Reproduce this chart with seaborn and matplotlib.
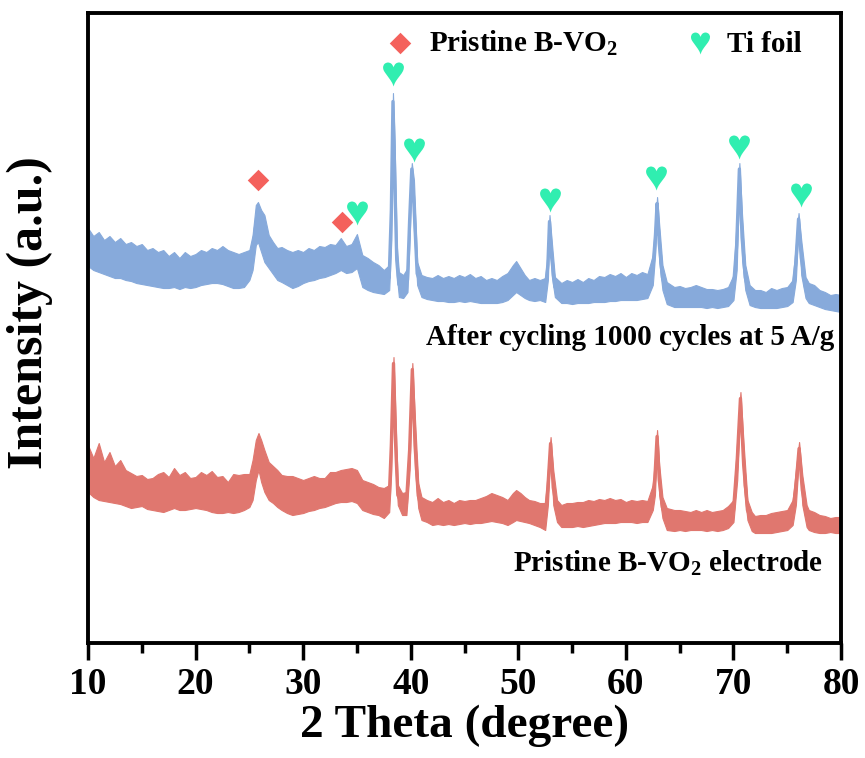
import matplotlib
matplotlib.use("Agg")
import matplotlib.pyplot as plt
from matplotlib.ticker import MultipleLocator
import pandas as pd
import seaborn as sns

# ---- XRD patterns: upper / lower edge of the noisy trace at each 2-theta ----
theta_cycled = [
    10.0, 10.5, 11.0, 11.5, 12.0, 12.5, 13.0, 13.5, 14.0, 14.5, 15.0, 15.5, 16.0, 16.5,
    17.0, 17.5, 18.0, 18.5, 19.0, 19.5, 20.0, 20.5, 21.0, 21.5, 22.0, 22.5, 23.0, 23.5,
    24.0, 24.5, 25.0, 25.3, 25.6, 25.8, 26.1, 26.4, 26.8, 27.2, 27.6, 28.0, 28.5, 29.0,
    29.5, 30.0, 30.5, 31.0, 31.5, 32.0, 32.5, 33.0, 33.5, 34.0, 34.5, 35.0, 35.5, 36.0,
    36.5, 37.0, 37.5, 38.0, 38.2, 38.35, 38.5, 38.7, 38.9, 39.3, 39.7, 39.9, 40.1, 40.3,
    40.6, 41.0, 41.5, 42.0, 42.5, 43.0, 43.5, 44.0, 44.5, 45.0, 45.5, 46.0, 46.5, 47.0,
    47.5, 48.0, 48.5, 49.0, 49.5, 49.8, 50.2, 50.6, 51.0, 51.5, 52.0, 52.5, 52.75, 52.9,
    53.1, 53.4, 54.0, 54.5, 55.0, 55.5, 56.0, 56.5, 57.0, 57.5, 58.0, 58.5, 59.0, 59.5,
    60.0, 60.5, 61.0, 61.5, 62.0, 62.5, 62.75, 62.9, 63.1, 63.4, 63.8, 64.5, 65.0, 65.5,
    66.0, 66.5, 67.0, 67.5, 68.0, 68.5, 69.0, 69.5, 70.0, 70.3, 70.55, 70.8, 71.1, 71.5,
    72.0, 72.5, 73.0, 73.5, 74.0, 74.5, 75.0, 75.5, 75.8, 76.05, 76.3, 76.7, 77.0, 77.5,
    78.0, 78.5, 79.0, 79.5, 80.0,
]
upper_cycled = [
    415, 407, 411, 403, 407, 401, 405, 399, 401, 397, 399, 393, 395, 391,
    393, 387, 391, 385, 391, 387, 389, 393, 391, 395, 393, 397, 393, 391,
    389, 391, 393, 408, 438, 441, 433, 428, 408, 401, 395, 396, 393, 391,
    393, 391, 395, 393, 397, 396, 399, 398, 405, 397, 399, 409, 388, 385,
    381, 378, 373, 378, 463, 550, 503, 398, 371, 368, 375, 443, 480, 463,
    381, 368, 366, 365, 368, 365, 367, 365, 368, 366, 369, 365, 367, 363,
    365, 363, 367, 370, 378, 382, 375, 368, 363, 365, 363, 365, 393, 428,
    403, 366, 360, 363, 361, 364, 361, 365, 363, 367, 366, 369, 367, 370,
    366, 370, 368, 371, 369, 388, 423, 446, 418, 378, 361, 356, 357, 355,
    356, 358, 356, 354, 354, 353, 354, 356, 368, 423, 480, 428, 378, 358,
    353, 353, 351, 355, 353, 355, 356, 363, 398, 430, 403, 366, 360, 358,
    353, 351, 348, 349, 348,
]
lower_cycled = [
    377, 373, 371, 369, 367, 365, 365, 363, 362, 360, 359, 358, 357, 356,
    355, 355, 356, 354, 356, 355, 356, 358, 359, 360, 360, 359, 357, 355,
    355, 356, 363, 373, 398, 401, 391, 381, 375, 369, 363, 361, 358, 355,
    357, 360, 362, 363, 365, 366, 368, 370, 373, 370, 371, 375, 356, 353,
    351, 350, 349, 353, 403, 533, 443, 368, 346, 345, 351, 403, 468, 413,
    358, 346, 344, 343, 342, 342, 341, 341, 342, 341, 342, 341, 340, 340,
    340, 340, 341, 343, 348, 351, 348, 345, 343, 342, 343, 341, 363, 415,
    368, 346, 340, 340, 339, 340, 340, 340, 341, 341, 341, 342, 342, 343,
    343, 343, 343, 344, 345, 358, 393, 433, 381, 353, 339, 336, 336, 336,
    336, 336, 336, 335, 336, 335, 336, 337, 343, 373, 468, 383, 353, 338,
    336, 335, 335, 335, 335, 336, 337, 341, 363, 418, 368, 345, 340, 338,
    336, 334, 333, 332, 331,
]

theta_pristine = [
    10.0, 10.5, 11.0, 11.5, 12.0, 12.5, 13.0, 13.5, 14.0, 14.5, 15.0, 15.5, 16.0, 16.5,
    17.0, 17.5, 18.0, 18.5, 19.0, 19.5, 20.0, 20.5, 21.0, 21.5, 22.0, 22.5, 23.0, 23.5,
    24.0, 24.5, 25.0, 25.3, 25.6, 25.85, 26.1, 26.4, 26.8, 27.2, 27.6, 28.0, 28.5, 29.0,
    29.5, 30.0, 30.5, 31.0, 31.5, 32.0, 32.5, 33.0, 33.5, 34.0, 34.5, 35.0, 35.5, 36.0,
    36.5, 37.0, 37.5, 38.0, 38.2, 38.4, 38.6, 38.8, 39.2, 39.6, 39.9, 40.15, 40.4, 40.7,
    41.0, 41.5, 42.0, 42.5, 43.0, 43.5, 44.0, 44.5, 45.0, 45.5, 46.0, 46.5, 47.0, 47.5,
    48.0, 48.5, 49.0, 49.5, 49.8, 50.2, 50.6, 51.0, 51.5, 52.0, 52.5, 52.75, 53.0, 53.25,
    53.6, 54.0, 54.5, 55.0, 55.5, 56.0, 56.5, 57.0, 57.5, 58.0, 58.5, 59.0, 59.5, 60.0,
    60.5, 61.0, 61.5, 62.0, 62.5, 62.7, 62.9, 63.1, 63.4, 63.8, 64.5, 65.0, 65.5, 66.0,
    66.5, 67.0, 67.5, 68.0, 68.5, 69.0, 69.5, 70.0, 70.35, 70.65, 70.95, 71.3, 71.7, 72.0,
    72.5, 73.0, 73.5, 74.0, 74.5, 75.0, 75.5, 75.8, 76.1, 76.4, 76.8, 77.0, 77.5, 78.0,
    78.5, 79.0, 79.5, 80.0,
]
upper_pristine = [
    198, 185, 200, 181, 191, 177, 183, 173, 170, 167, 168, 164, 165, 169,
    171, 166, 175, 168, 171, 165, 166, 171, 168, 172, 166, 167, 161, 169,
    168, 169, 169, 183, 203, 210, 203, 193, 181, 177, 173, 168, 167, 167,
    165, 163, 165, 167, 165, 165, 171, 171, 173, 174, 175, 173, 163, 161,
    159, 156, 155, 158, 223, 286, 223, 158, 150, 151, 213, 280, 223, 160,
    146, 143, 141, 145, 141, 143, 140, 143, 142, 143, 143, 145, 147, 150,
    148, 146, 143, 150, 153, 150, 146, 143, 142, 140, 140, 173, 206, 173,
    143, 138, 140, 140, 141, 141, 143, 142, 144, 143, 145, 143, 144, 141,
    143, 142, 143, 142, 158, 183, 213, 178, 146, 135, 133, 133, 132, 131,
    133, 131, 133, 131, 132, 133, 137, 143, 203, 251, 198, 143, 131, 127,
    128, 128, 130, 131, 132, 133, 143, 173, 201, 168, 138, 133, 131, 128,
    127, 125, 126, 126,
]
lower_pristine = [
    151, 146, 143, 142, 141, 140, 139, 137, 135, 136, 137, 134, 133, 132,
    131, 133, 135, 133, 133, 134, 135, 134, 133, 131, 130, 130, 131, 130,
    131, 133, 136, 143, 163, 173, 161, 151, 143, 140, 136, 133, 130, 128,
    129, 130, 132, 133, 135, 136, 138, 140, 141, 141, 142, 140, 133, 131,
    129, 128, 125, 131, 173, 273, 173, 138, 128, 128, 173, 267, 173, 135,
    123, 121, 118, 119, 118, 119, 118, 119, 120, 119, 120, 120, 121, 122,
    121, 120, 118, 121, 123, 122, 121, 120, 118, 116, 113, 138, 193, 138,
    121, 116, 116, 116, 117, 116, 117, 118, 119, 120, 120, 120, 121, 121,
    121, 120, 121, 121, 133, 148, 200, 148, 125, 113, 112, 113, 112, 113,
    113, 113, 112, 113, 112, 113, 115, 121, 163, 238, 158, 123, 112, 110,
    110, 110, 110, 111, 112, 113, 118, 138, 188, 138, 116, 113, 111, 110,
    110, 111, 110, 110,
]

# ---- phase markers ----
vo2_theta = [25.8, 33.6]
vo2_height = [463, 421]
ti_theta = [35.0, 38.35, 40.3, 52.95, 62.8, 70.5, 76.3]
ti_height = [430, 569, 493, 443, 465, 496, 448]

label_cycled = "After cycling 1000 cycles at 5 A/g"
label_pristine = r"Pristine B-VO$_2$ electrode"
legend_vo2 = r"Pristine B-VO$_2$"
legend_ti = "Ti foil"

COLOR_CYCLED = "#87aadb"
COLOR_PRISTINE = "#e0776f"
COLOR_VO2 = "#f4615c"
COLOR_TI = "#30eeb0"

sns.set_theme(style="white")
plt.rcParams["font.family"] = ["Liberation Serif", "DejaVu Serif"]
plt.rcParams["font.weight"] = "bold"
plt.rcParams["text.color"] = "black"
plt.rcParams["axes.labelcolor"] = "black"
plt.rcParams["xtick.color"] = "black"
plt.rcParams["ytick.color"] = "black"
plt.rcParams["mathtext.fontset"] = "custom"
plt.rcParams["mathtext.rm"] = "Liberation Serif:bold"
plt.rcParams["mathtext.bf"] = "Liberation Serif:bold"
plt.rcParams["mathtext.default"] = "bf"


def band_frame(theta, upper, lower, name):
    return pd.DataFrame({
        "theta": list(theta) + list(theta),
        "intensity": list(upper) + list(lower),
        "pattern": name,
    })


patterns = pd.concat([
    band_frame(theta_cycled, upper_cycled, lower_cycled, "cycled"),
    band_frame(theta_pristine, upper_pristine, lower_pristine, "pristine"),
], ignore_index=True)

fig = plt.figure(figsize=(8.65, 7.58), dpi=100)
ax = fig.add_axes([0.1017, 0.1517, 0.8706, 0.8311])

sns.lineplot(
    data=patterns, x="theta", y="intensity", hue="pattern",
    palette={"cycled": COLOR_CYCLED, "pristine": COLOR_PRISTINE},
    estimator="mean", errorbar=("pi", 100),
    err_kws={"alpha": 1.0, "linewidth": 0.8},
    linewidth=2.4, legend=False, ax=ax,
)

sns.scatterplot(x=vo2_theta, y=vo2_height, marker="D", s=120, color=COLOR_VO2,
                linewidth=0, ax=ax, zorder=5)
sns.scatterplot(x=ti_theta, y=ti_height, marker="$\u2665$", s=300, color=COLOR_TI,
                linewidth=0, ax=ax, zorder=5)

# key for the phase markers
sns.scatterplot(x=[39.05], y=[600], marker="D", s=120, color=COLOR_VO2,
                linewidth=0, ax=ax, zorder=5)
sns.scatterplot(x=[66.9], y=[600], marker="$\u2665$", s=250, color=COLOR_TI,
                linewidth=0, ax=ax, zorder=5)
ax.text(41.7, 591, legend_vo2, fontsize=21, fontweight="bold", ha="left", va="baseline")
ax.text(69.4, 591, legend_ti, fontsize=21, fontweight="bold", ha="left", va="baseline")

ax.text(79.4, 298, label_cycled, fontsize=21, fontweight="bold", ha="right", va="baseline")
ax.text(78.3, 71, label_pristine, fontsize=21, fontweight="bold", ha="right", va="baseline")

ax.set_xlim(10, 80)
ax.set_ylim(0, 630)
ax.set_xticks(range(10, 81, 10))
ax.xaxis.set_minor_locator(MultipleLocator(5))
ax.set_yticks([])
ax.tick_params(axis="x", which="major", direction="out", length=12, width=2.5,
               labelsize=27, pad=5, bottom=True)
ax.tick_params(axis="x", which="minor", direction="out", length=7, width=2.5, bottom=True)
for lab in ax.get_xticklabels():
    lab.set_fontweight("bold")

ax.set_xlabel("2 Theta (degree)", fontsize=34, fontweight="bold", labelpad=2)
ax.set_ylabel("Intensity (a.u.)", fontsize=36, fontweight="bold")
ax.yaxis.set_label_coords(-0.046, 0.525)

for spine in ax.spines.values():
    spine.set_visible(True)
    spine.set_color("black")
    spine.set_linewidth(2.8)

fig.savefig("out.png", dpi=100, facecolor="white")
